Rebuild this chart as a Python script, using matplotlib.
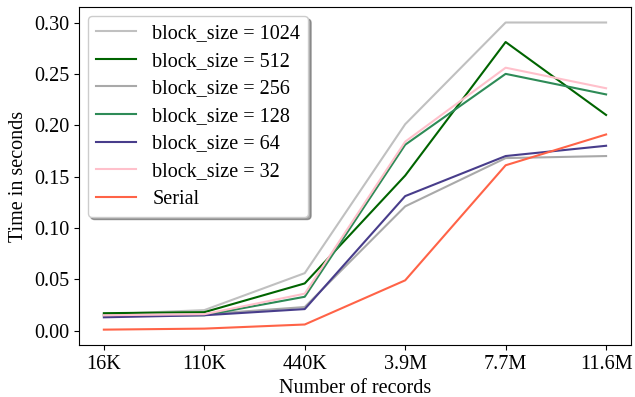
import matplotlib
matplotlib.use("Agg")
import matplotlib.pyplot as plt

records = ["16K", "110K", "440K", "3.9M", "7.7M", "11.6M"]

bs_1024 = [0.016, 0.020, 0.056, 0.201, 0.300, 0.300]
bs_512 = [0.017, 0.018, 0.046, 0.151, 0.281, 0.210]
bs_256 = [0.015, 0.016, 0.023, 0.121, 0.168, 0.170]
bs_128 = [0.015, 0.015, 0.033, 0.181, 0.250, 0.230]
bs_64 = [0.013, 0.015, 0.021, 0.131, 0.170, 0.180]
bs_32 = [0.015, 0.016, 0.036, 0.184, 0.256, 0.236]
serial = [0.001, 0.002, 0.006, 0.049, 0.161, 0.191]

series = [
    ("block_size = 1024", bs_1024, "silver"),
    ("block_size = 512", bs_512, "darkgreen"),
    ("block_size = 256", bs_256, "darkgray"),
    ("block_size = 128", bs_128, "seagreen"),
    ("block_size = 64", bs_64, "darkslateblue"),
    ("block_size = 32", bs_32, "pink"),
    ("Serial", serial, "tomato"),
]

plt.rcParams['font.family'] = ['Liberation Serif', 'DejaVu Serif']
plt.rcParams['font.size'] = 14.5

fig, ax = plt.subplots(figsize=(6.35, 3.97), dpi=100)
fig.subplots_adjust(left=0.124, right=0.994, bottom=0.131, top=0.982)

for label, vals, color in series:
    ax.plot(records, vals, color=color, linewidth=1.5, label=label)

ax.set_xlabel("Number of records")
ax.set_ylabel("Time in seconds")
ax.set_yticks([0.0, 0.05, 0.10, 0.15, 0.20, 0.25, 0.30])
ax.yaxis.set_major_formatter(matplotlib.ticker.FormatStrFormatter('%.2f'))
ax.legend(loc="upper left", shadow=True, labelspacing=0.42, borderaxespad=0.45)

fig.savefig("out.png", dpi=100)
